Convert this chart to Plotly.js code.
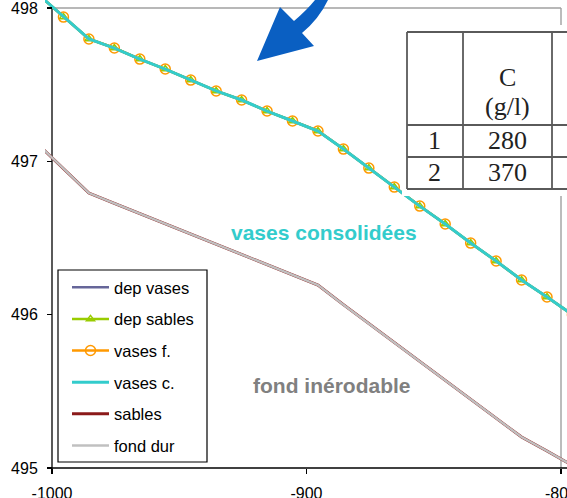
<!DOCTYPE html>
<html><head><meta charset="utf-8">
<script src="https://cdn.plot.ly/plotly-3.0.1.min.js"></script>
<style>html,body{margin:0;padding:0;background:#fff}#chart{width:567px;height:498px}</style>
</head><body><div id="chart"></div>
<script>
// ---- data ----
const xPos = [-1005.5,-995.5,-985.5,-975.5,-965.5,-955.5,-945.5,-935.5,-925.5,-915.5,-905.5,
              -895.5,-885.5,-875.5,-865.5,-855.5,-845.5,-835.5,-825.5,-815.5,-805.5,-795.5];
const depVases  = [498.090,497.941,497.798,497.739,497.667,497.602,497.530,497.459,497.400,497.328,497.263,
                   497.198,497.080,496.956,496.832,496.708,496.591,496.467,496.350,496.226,496.115,496.000];
const depSables = [498.090,497.941,497.798,497.739,497.667,497.602,497.530,497.459,497.400,497.328,497.263,
                   497.198,497.080,496.956,496.832,496.708,496.591,496.467,496.350,496.226,496.115,496.000];
const vasesF    = [498.090,497.941,497.798,497.739,497.667,497.602,497.530,497.459,497.400,497.328,497.263,
                   497.198,497.080,496.956,496.832,496.708,496.591,496.467,496.350,496.226,496.115,496.000];
const vasesC    = [498.090,497.941,497.798,497.739,497.667,497.602,497.530,497.459,497.400,497.328,497.263,
                   497.198,497.080,496.956,496.832,496.708,496.591,496.467,496.350,496.226,496.115,496.000];
const sables    = [497.112,496.955,496.793,496.726,496.659,496.592,496.525,496.457,496.390,496.323,496.256,
                   496.193,496.065,495.942,495.818,495.695,495.571,495.449,495.326,495.202,495.111,495.017];
const fondDur   = [497.112,496.955,496.793,496.726,496.659,496.592,496.525,496.457,496.390,496.323,496.256,
                   496.193,496.065,495.942,495.818,495.695,495.571,495.449,495.326,495.202,495.111,495.017];
const xTicks = [-1000,-900,-800];
const yTicks = [495,496,497,498];
const seriesNames = ['dep vases','dep sables','vases f.','vases c.','sables','fond dur'];
const labelVases = 'vases consolidées';
const labelFond = 'fond inérodable';
const tableHead = ['C','(g/l)'];
const tableRows = ['1','2'];
const tableVals = ['280','370'];

// ---- layout helpers (pixel -> paper) ----
const W = 567, H = 498, ML = 45, MR = 0, MT = 0, MB = 30;
const PW = W - ML - MR, PH = H - MT - MB;
const px = x => (x - ML) / PW;
const py = y => 1 - (y - MT) / PH;
const P = (x, y) => px(x).toFixed(5) + ',' + py(y).toFixed(5);
const FONT = 'Arial, "Liberation Sans", sans-serif';
const SERIF = '"Liberation Serif", "DejaVu Serif", serif';

const traces = [
  {x: xPos, y: depVases, name: seriesNames[0], mode: 'lines', line: {color: '#666699', width: 2.5}},
  {x: xPos, y: depSables, name: seriesNames[1], mode: 'lines+markers', line: {color: '#99cc00', width: 2.5},
   marker: {symbol: 'triangle-up-open', size: 7, color: '#99cc00', line: {width: 1.5, color: '#99cc00'}}},
  {x: xPos, y: vasesF, name: seriesNames[2], mode: 'lines+markers', line: {color: '#ff9900', width: 2.5},
   marker: {symbol: 'circle-open', size: 10, color: '#ff9900', line: {width: 1.5, color: '#ff9900'}}},
  {x: xPos, y: vasesC, name: seriesNames[3], mode: 'lines', line: {color: '#33cccc', width: 3}},
  {x: xPos, y: sables, name: seriesNames[4], mode: 'lines', line: {color: '#8b1a1a', width: 2.9}},
  {x: xPos, y: fondDur, name: seriesNames[5], mode: 'lines', line: {color: '#c0c0c0', width: 2.4}}
];
traces.forEach((t, i) => { t.legendgroup = 'g' + i; t.hoverinfo = 'skip'; });

function seg(x0, y0, x1, y1, color, width, layer) {
  return {type: 'line', xref: 'paper', yref: 'paper', x0: px(x0), y0: py(y0), x1: px(x1), y1: py(y1),
          line: {color: color, width: width}, layer: layer || 'above'};
}
const shapes = [
  seg(52, 8, 561, 8, '#a0a0a0', 1.4, 'below'),
  seg(561, 8, 561, 468, '#a0a0a0', 1.4, 'below'),
  seg(52, 8, 52, 471, '#000', 1.3, 'below'),
  seg(49, 468, 567, 468, '#000', 1.3, 'below'),
  // legend frame
  {type: 'rect', xref: 'paper', yref: 'paper', x0: px(58), y0: py(462), x1: px(207), y1: py(270),
   fillcolor: '#ffffff', line: {width: 1.2, color: '#000'}, layer: 'above'},
  // pasted table
  {type: 'rect', xref: 'paper', yref: 'paper', x0: px(402), y0: py(196), x1: px(567), y1: py(25),
   fillcolor: '#ffffff', line: {width: 0}, layer: 'above'},
  seg(407, 32, 567, 32, '#5a5a5a', 1.8),
  seg(407, 189, 567, 189, '#5a5a5a', 1.8),
  seg(407, 32, 407, 189, '#5a5a5a', 1.8),
  seg(463, 32, 463, 189, '#5a5a5a', 1.8),
  seg(552, 32, 552, 189, '#5a5a5a', 1.8),
  seg(407, 125, 567, 125, '#5a5a5a', 1.8),
  seg(407, 157, 567, 157, '#5a5a5a', 1.8),
  // blue block arrow (decoration)
  {type: 'path', xref: 'paper', yref: 'paper', fillcolor: '#0a5fc2', line: {width: 0}, layer: 'above',
   path: 'M' + P(257, 61) + ' L' + P(280, 7) + ' L' + P(294, 21) + ' Q' + P(307, 10) + ' ' + P(315, 0) +
         ' L' + P(328, 0) + ' Q' + P(319, 19) + ' ' + P(302, 33) + ' L' + P(314, 46) + ' Z'}
];

function txt(t, x, y, size, color, family, bold) {
  return {text: bold ? '<b>' + t + '</b>' : t, xref: 'paper', yref: 'paper', x: px(x), y: py(y),
          xanchor: 'center', yanchor: 'middle', showarrow: false,
          font: {size: size, color: color, family: family}};
}
const annotations = [
  txt(labelVases, 324, 232, 21, '#33cccc', FONT, true),
  txt(labelFond, 332, 385, 21, '#808080', FONT, true),
  txt(tableHead[0], 507, 78, 26, '#222', SERIF),
  txt(tableHead[1], 507, 107, 26, '#222', SERIF),
  txt(tableRows[0], 434, 140, 26, '#222', SERIF),
  txt(tableVals[0], 507, 140, 26, '#222', SERIF),
  txt(tableRows[1], 434, 172, 26, '#222', SERIF),
  txt(tableVals[1], 507, 172, 26, '#222', SERIF)
];

const xr = [-1000 - (52 - ML) / 2.545, -800 + (W - 561) / 2.545];
const yr = [495, 495 + PH / 153.33];

const layout = {
  width: W, height: H, margin: {l: ML, r: MR, t: MT, b: MB, pad: 0},
  paper_bgcolor: '#fff', plot_bgcolor: 'rgba(0,0,0,0)',
  font: {family: FONT, size: 16, color: '#000'},
  xaxis: {range: xr, tickvals: xTicks, ticktext: xTicks.map(String), ticks: 'outside', ticklen: 5,
          tickwidth: 1.3, tickcolor: '#000', showgrid: false, zeroline: false, showline: false,
          automargin: false, ticklabelstandoff: 6, ticklabeloverflow: 'allow',
          tickfont: {size: 16, family: FONT}},
  yaxis: {range: yr, tickvals: yTicks, ticktext: yTicks.map(String), ticks: 'outside', ticklen: 5,
          tickwidth: 1.3, tickcolor: '#000', showgrid: false, zeroline: false, showline: false,
          anchor: 'free', position: px(52), automargin: false, ticklabelstandoff: 6,
          ticklabeloverflow: 'allow', tickfont: {size: 16, family: FONT}},
  showlegend: true,
  legend: {x: px(67), y: py(270), xanchor: 'left', yanchor: 'top', bgcolor: 'rgba(0,0,0,0)',
           borderwidth: 0, font: {size: 16.5, family: FONT},
           tracegroupgap: 7.2, itemwidth: 37, traceorder: 'grouped'},
  shapes: shapes, annotations: annotations
};
Plotly.newPlot('chart', traces, layout, {staticPlot: true, displayModeBar: false});
</script></body></html>
